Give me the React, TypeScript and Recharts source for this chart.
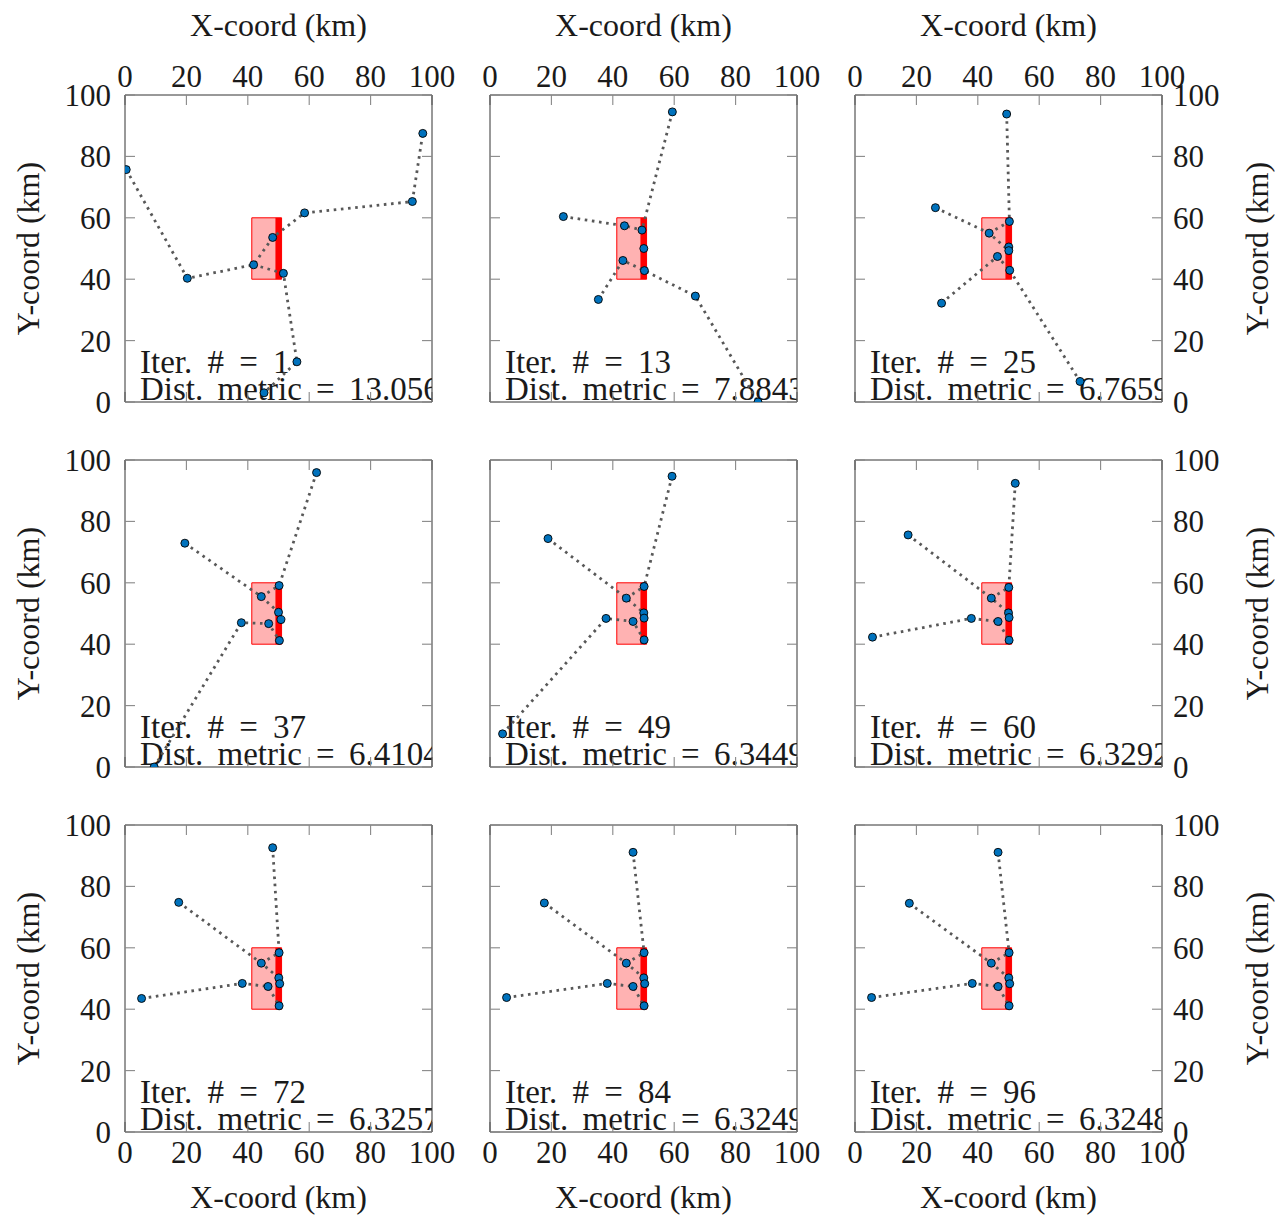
import { ScatterChart, Scatter, XAxis, YAxis, ReferenceArea } from 'recharts';

// iteration labels and distance metric shown in each panel
const iterations = [1, 13, 25, 37, 49, 60, 72, 84, 96];
const distMetrics = ['13.056', '7.8843', '6.7659', '6.4104', '6.3449', '6.3292', '6.3257', '6.3249', '6.3248'];
const axisTicks = [0, 20, 40, 60, 80, 100];

// facility block (pink) and its frontage strip (red), km
const blockX = [41.3, 51];
const blockY = [40, 60];
const stripX = [49, 51];

// node positions per iteration [x, y] in km
const iter01Points = [[0.4, 75.7], [20.3, 40.3], [41.9, 44.7], [48.1, 53.6], [58.5, 61.6], [93.6, 65.3], [97.0, 87.5], [51.6, 41.9], [56.0, 13.1], [45.3, 3.0]];
const iter13Points = [[59.4, 94.5], [23.9, 60.4], [43.8, 57.4], [49.5, 56.0], [50.1, 50.0], [43.3, 46.1], [50.3, 42.8], [35.3, 33.4], [66.9, 34.5], [87.3, 0.0]];
const iter25Points = [[49.4, 93.8], [26.2, 63.3], [43.7, 55.0], [50.3, 58.8], [50.1, 50.5], [50.1, 49.3], [46.4, 47.4], [50.4, 42.9], [28.2, 32.2], [73.3, 6.7]];
const iter37Points = [[62.4, 95.9], [19.5, 72.9], [44.4, 55.5], [50.2, 59.1], [50.0, 50.4], [50.8, 48.0], [37.9, 47.0], [46.8, 46.7], [50.3, 41.2], [9.5, 0.0]];
const iter49Points = [[59.3, 94.7], [18.9, 74.4], [44.4, 55.0], [50.2, 58.8], [50.1, 50.2], [50.2, 48.5], [37.8, 48.4], [46.6, 47.4], [50.2, 41.4], [4.1, 10.8]];
const iter60Points = [[52.2, 92.4], [17.3, 75.6], [44.4, 55.0], [50.1, 58.5], [50.0, 50.2], [50.2, 48.7], [37.9, 48.4], [46.6, 47.4], [50.2, 41.3], [5.7, 42.3]];
const iter72Points = [[48.1, 92.6], [17.5, 74.8], [44.4, 55.0], [50.2, 58.4], [50.1, 50.2], [50.4, 48.3], [38.2, 48.4], [46.6, 47.4], [50.2, 41.1], [5.4, 43.5]];
const iter84Points = [[46.6, 91.1], [17.7, 74.6], [44.4, 55.0], [50.2, 58.4], [50.1, 50.2], [50.4, 48.3], [38.2, 48.4], [46.6, 47.4], [50.2, 41.1], [5.4, 43.8]];
const iter96Points = [[46.6, 91.1], [17.7, 74.5], [44.4, 55.0], [50.2, 58.4], [50.1, 50.2], [50.4, 48.3], [38.2, 48.4], [46.6, 47.4], [50.2, 41.1], [5.4, 43.8]];

// dotted connections, as chains of node indices
const iter01Paths = [[0, 1, 2, 3, 4, 5, 6], [2, 7, 8, 9]];
const iter13Paths = [[1, 2, 3], [0, 3], [7, 5, 6, 8, 9]];
const iter25Paths = [[0, 3], [1, 2, 5], [2, 3], [8, 6, 7], [7, 9]];
const laterPaths = [[0, 3], [1, 2, 4], [2, 3], [9, 6, 7, 8]];

const panelPoints = [iter01Points, iter13Points, iter25Points, iter37Points, iter49Points, iter60Points, iter72Points, iter84Points, iter96Points];
const panelPaths = [iter01Paths, iter13Paths, iter25Paths, laterPaths, laterPaths, laterPaths, laterPaths, laterPaths, laterPaths];

const FONT = "'Liberation Serif', 'DejaVu Serif', serif";
const INK = '#1a1a1a';
const PLOT = 307;
const PLOT_LEFTS = [125, 490, 855];
const PLOT_TOPS = [95, 460, 825];
const LEFT_W = 125;
const RIGHT_W = 113;
const TOP_H = 95;
const BOTTOM_H = 84;

const tickFont = { fontSize: 31, fill: INK, fontFamily: FONT };
const labelStyle = { fontSize: 32, fill: INK, fontFamily: FONT };

const Dot = (p: any) => <circle cx={p.cx} cy={p.cy} r={4} fill="#0072bd" stroke="#000" strokeWidth={0.9} />;
const NoDot = () => <g />;
const NoTick = () => <g />;

function Panel({ idx }: { idx: number }) {
  const row = Math.floor(idx / 3);
  const col = idx % 3;
  const pts = panelPoints[idx].map(([x, y]) => ({ x, y }));
  const chains = panelPaths[idx].map((path) => path.map((i) => pts[i]));
  const w = LEFT_W + PLOT + RIGHT_W;
  const h = TOP_H + PLOT + BOTTOM_H;
  const frame = { type: 'number' as const, domain: [0, 100], ticks: axisTicks, allowDataOverflow: true, interval: 0 as const };
  const border = { tick: NoTick, tickSize: 10, axisLine: { stroke: '#333' }, tickLine: { stroke: '#888', strokeWidth: 1.1 } };

  return (
    <div style={{ position: 'absolute', left: PLOT_LEFTS[col] - LEFT_W, top: PLOT_TOPS[row] - TOP_H, width: w, height: h }}>
      <svg width={PLOT} height={PLOT} style={{ position: 'absolute', left: LEFT_W, top: TOP_H, overflow: 'hidden' }}>
        <text x={15} y={278} fontSize={33} fontFamily={FONT} fill={INK} wordSpacing={7}>
          {`Iter. # = ${iterations[idx]}`}
        </text>
        <text x={15} y={305} fontSize={33} fontFamily={FONT} fill={INK} wordSpacing={6}>
          {`Dist. metric = ${distMetrics[idx]}`}
        </text>
      </svg>
      <ScatterChart
        width={w}
        height={h}
        margin={{ top: row === 0 ? 0 : TOP_H, bottom: row === 2 ? 0 : BOTTOM_H, left: col === 0 ? 0 : LEFT_W, right: col === 2 ? 0 : RIGHT_W }}
      >
        {row === 0 && (
          <XAxis xAxisId="lab" orientation="top" dataKey="x" height={TOP_H} {...frame} axisLine={false} tickLine={false} tickSize={0} tickMargin={8} tick={tickFont}
            label={{ value: 'X-coord (km)', position: 'insideTop', offset: 13, style: labelStyle }} />
        )}
        {row === 2 && (
          <XAxis xAxisId="lab" orientation="bottom" dataKey="x" height={BOTTOM_H} {...frame} axisLine={false} tickLine={false} tickSize={0} tickMargin={9} tick={tickFont}
            label={{ value: 'X-coord (km)', position: 'insideBottom', offset: 8, style: labelStyle }} />
        )}
        {col === 0 && (
          <YAxis yAxisId="lab" orientation="left" dataKey="y" width={LEFT_W} {...frame} axisLine={false} tickLine={false} tickSize={0} tickMargin={14} tick={tickFont}
            label={{ value: 'Y-coord (km)', angle: -90, position: 'insideLeft', offset: 28, style: { ...labelStyle, textAnchor: 'middle' } }} />
        )}
        {col === 2 && (
          <YAxis yAxisId="lab" orientation="right" dataKey="y" width={RIGHT_W} {...frame} axisLine={false} tickLine={false} tickSize={0} tickMargin={11} tick={tickFont}
            label={{ value: 'Y-coord (km)', angle: -90, position: 'insideRight', offset: 18, style: { ...labelStyle, textAnchor: 'middle' } }} />
        )}
        <XAxis xAxisId="b" orientation="bottom" mirror dataKey="x" {...frame} {...border} />
        <XAxis xAxisId="t" orientation="top" mirror dataKey="x" {...frame} {...border} />
        <YAxis yAxisId="l" orientation="left" mirror dataKey="y" {...frame} {...border} />
        <YAxis yAxisId="r" orientation="right" mirror dataKey="y" {...frame} {...border} />
        <ReferenceArea xAxisId="b" yAxisId="l" x1={blockX[0]} x2={blockX[1]} y1={blockY[0]} y2={blockY[1]} fill="#ff0000" fillOpacity={0.3} stroke="#ff0000" strokeOpacity={1} strokeWidth={1} />
        <ReferenceArea xAxisId="b" yAxisId="l" x1={stripX[0]} x2={stripX[1]} y1={blockY[0]} y2={blockY[1]} fill="#ff0000" fillOpacity={1} stroke="none" />
        {chains.map((c, i) => (
          <Scatter key={i} xAxisId="b" yAxisId="l" data={c} shape={NoDot} lineType="joint" isAnimationActive={false}
            line={{ stroke: '#585858', strokeWidth: 2.8, strokeDasharray: '2.6 4.6' }} />
        ))}
        <Scatter xAxisId="b" yAxisId="l" data={pts} shape={Dot} isAnimationActive={false} />
      </ScatterChart>
    </div>
  );
}

export default function App() {
  return (
    <div style={{ position: 'absolute', left: 0, top: 0, width: 1275, height: 1216, background: '#fff', overflow: 'hidden' }}>
      {iterations.map((_, i) => (
        <Panel key={i} idx={i} />
      ))}
    </div>
  );
}
